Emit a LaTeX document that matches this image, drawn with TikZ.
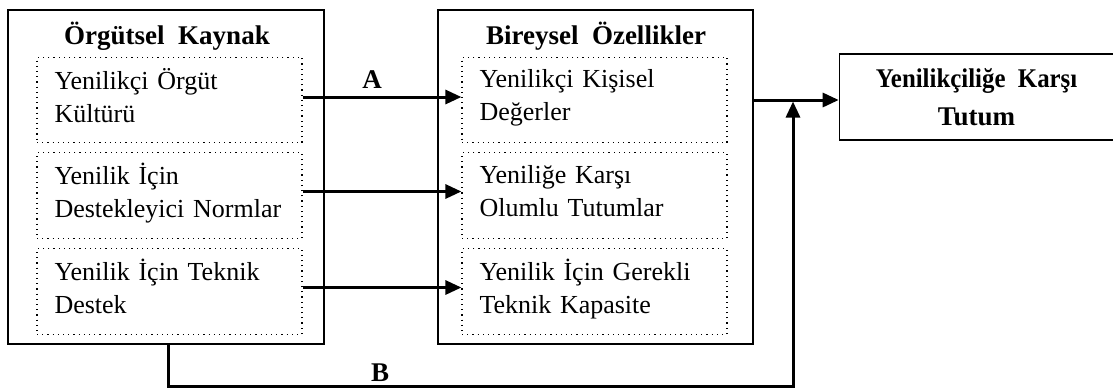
\documentclass[tikz,border=0pt]{standalone}
\usepackage{graphicx}
\usepackage{fontspec}
\setmainfont{Liberation Serif}
\usetikzlibrary{arrows.meta,calc}
\begin{document}
\begin{tikzpicture}[x=0.5pt,y=-0.5pt,
  outerbox/.style={draw,line width=0.8pt,inner sep=0pt},
  innerbox/.style={draw,dotted,line width=0.6pt,minimum width=132.5pt,minimum height=42.75pt,
     text width=115pt,align=left,inner xsep=8.75pt,inner ysep=0pt,text depth=21.5pt,
     font=\fontsize{13}{16.5}\selectfont},
  titletext/.style={font=\bfseries\fontsize{13.5}{18}\selectfont,inner sep=0pt},
  conn/.style={line width=1.5pt,-{Triangle[length=8pt,width=7pt]}},
  plain/.style={line width=1.5pt},
  lbl/.style={font=\bfseries\fontsize{13.5}{16}\selectfont,inner sep=0pt}]
\useasboundingbox (0,0) rectangle (1113,388);
% outer boxes
\node[outerbox,minimum width=158pt,minimum height=167pt] (org) at (166,177) {};
\node[outerbox,minimum width=157.5pt,minimum height=167pt] (bir) at (595.5,177) {};
\node[outerbox,minimum width=137pt,minimum height=43pt,align=center,
      font=\bfseries\fontsize{13.5}{19}\selectfont] (tut) at (976.5,97)
      {\scalebox{0.92}[1]{Yenilikçiliğe\ \ Karşı}\\Tutum};
% titles
\node[titletext] (orgT) at (167,36) {Örgütsel\ \ Kaynak};
\node[titletext] (birT) at (596,36) {Bireysel\ \ Özellikler};
% inner boxes left
\node[innerbox] (l1) at (169.5,100) {Yenilikçi Örgüt\\Kültürü};
\node[innerbox] (l2) at (169.5,195.5) {Yenilik İçin\\\mbox{Destekleyici Normlar}};
\node[innerbox] (l3) at (169.5,291.5) {Yenilik İçin Teknik\\Destek};
% inner boxes middle
\node[innerbox] (m1) at (594.5,100) {Yenilikçi Kişisel\\Değerler};
\node[innerbox] (m2) at (594.5,195.5) {Yeniliğe Karşı\\Olumlu Tutumlar};
\node[innerbox] (m3) at (594.5,291.5) {\mbox{Yenilik İçin Gerekli}\\Teknik Kapasite};
% arrows
\draw[conn] ([yshift=1.5pt]l1.east) -- ([yshift=1.5pt]m1.west);
\draw[conn] ([yshift=2pt]l2.east) -- ([yshift=2pt]m2.west);
\draw[conn] ([yshift=2pt]l3.east) -- ([yshift=2pt]m3.west);
\node[lbl] (A) at (372,80) {A};
% to right box
\coordinate (jn) at (793,100);
\draw[conn] (bir.east |- jn) -- (tut.west |- jn);
% B path
\coordinate (bstart) at ($(org.south)+(2,0)$);
\coordinate (bc1) at (168,386);
\coordinate (bc2) at (793,386);
\coordinate (bend) at (793,101.5);
\draw[plain] (bstart) -- (bc1) -- ([xshift=-0.75pt]bc2);
\draw[conn] ([yshift=-0.75pt]bc2) -- (bend);
\node[lbl] (B) at (380,373) {B};
\end{tikzpicture}
\end{document}
